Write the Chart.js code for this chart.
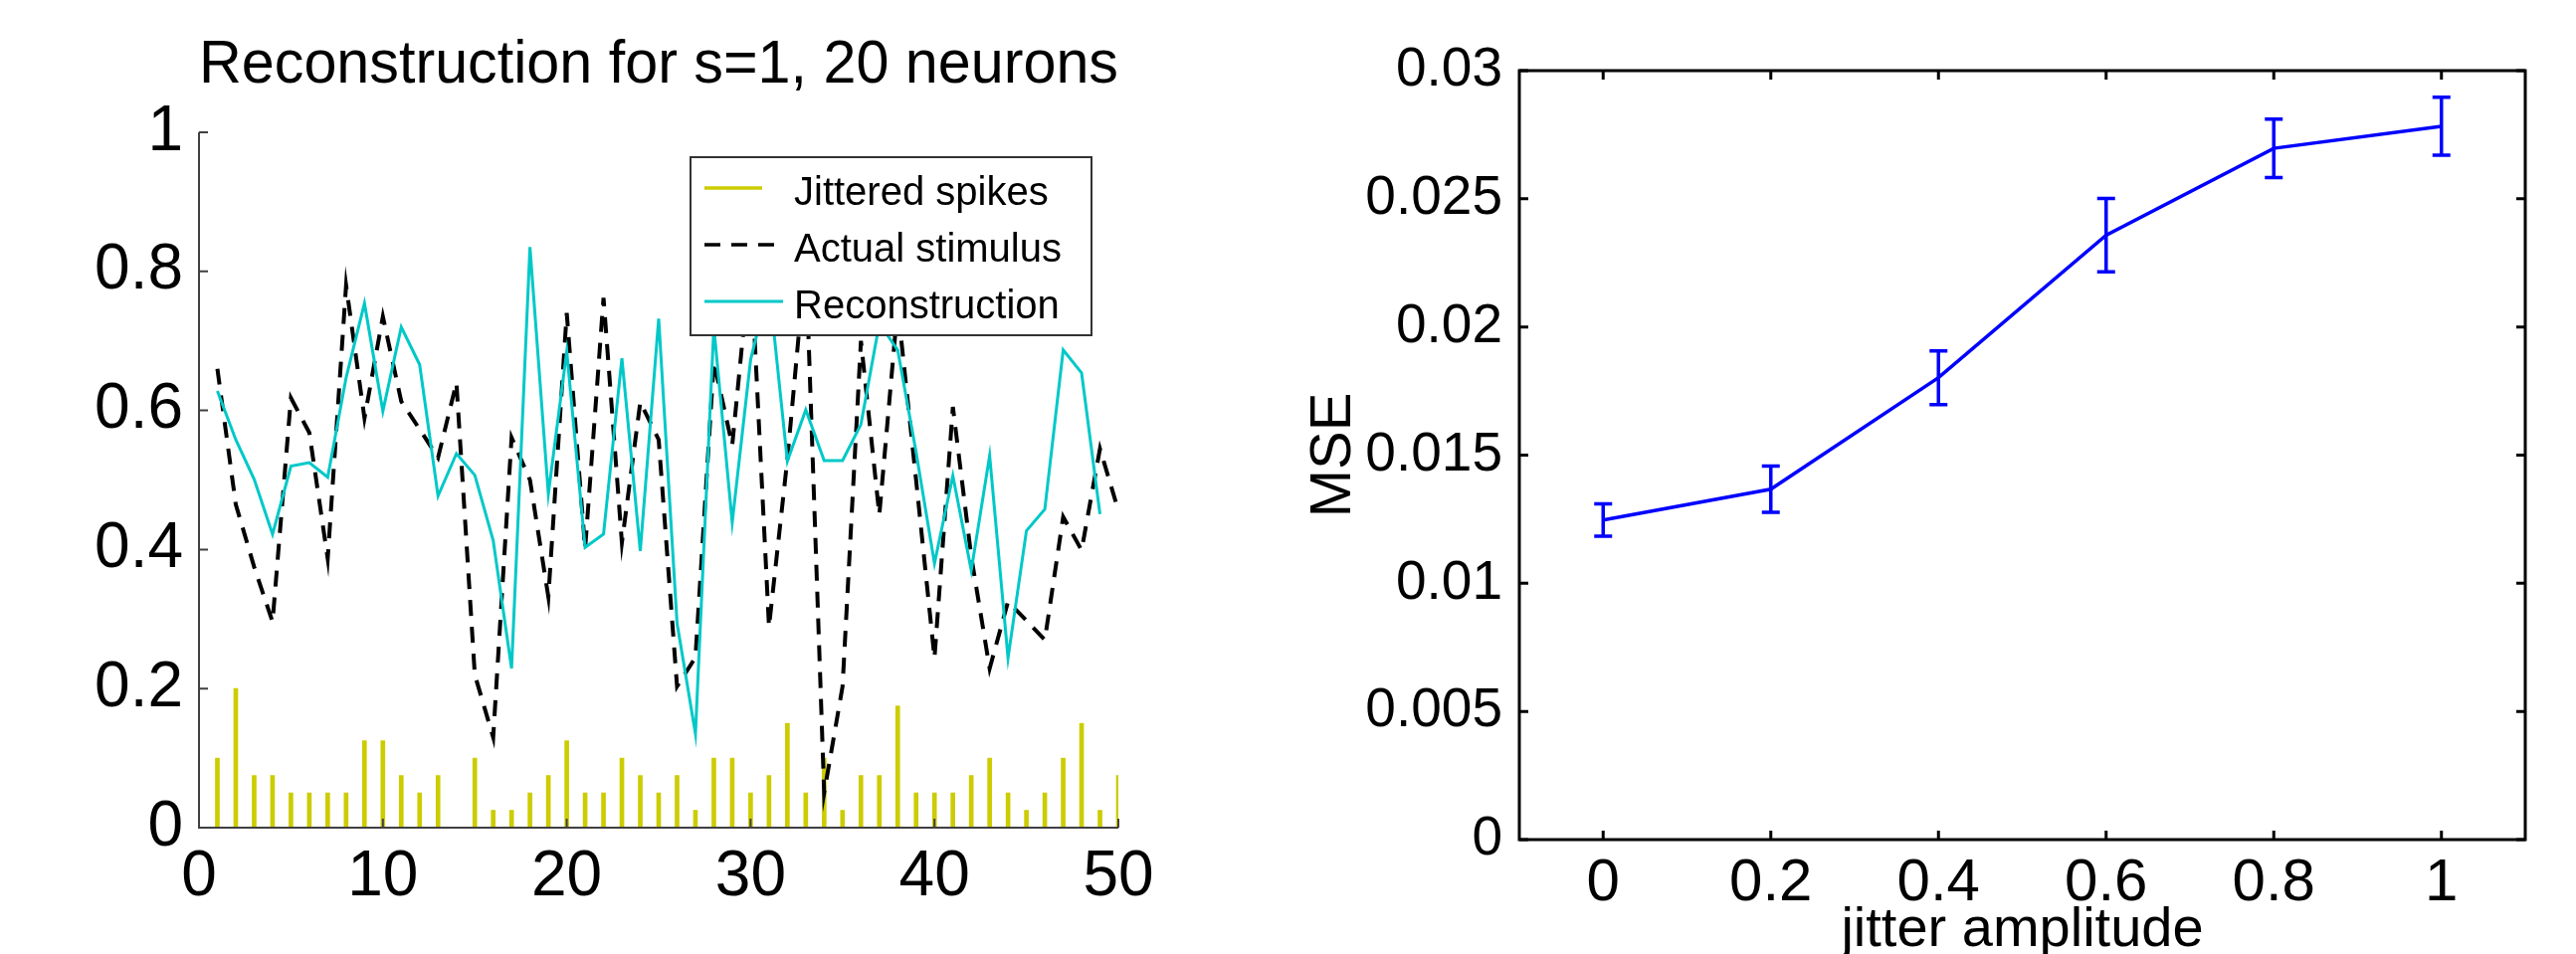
<!DOCTYPE html>
<html>
<head>
<meta charset="utf-8">
<script src="https://cdn.jsdelivr.net/npm/chart.js@4.4.1/dist/chart.umd.min.js"></script>
<style>
  html, body { margin: 0; padding: 0; background: #ffffff; width: 2589px; height: 959px; overflow: hidden; }
  #wrapA { position: absolute; left: 0; top: 0; width: 1290px; height: 959px; }
  #wrapB { position: absolute; left: 1290px; top: 0; width: 1299px; height: 959px; }
  canvas { display: block; }
</style>
</head>
<body>
<div id="wrapA"><canvas id="cA" width="1290" height="959"></canvas></div>
<div id="wrapB"><canvas id="cB" width="1299" height="959"></canvas></div>
<script>
// ---------- data: left panel ----------
const timeSteps = [1,2,3,4,5,6,7,8,9,10,11,12,13,14,15,16,17,18,19,20,21,22,23,24,25,
                   26,27,28,29,30,31,32,33,34,35,36,37,38,39,40,41,42,43,44,45,46,47,48,49,50];
const spikeHeights = [0.1,0.2,0.075,0.075,0.05,0.05,0.05,0.05,0.125,0.125,
                      0.075,0.05,0.075,0,0.1,0.025,0.025,0.05,0.075,0.125,
                      0.05,0.05,0.1,0.075,0.05,0.075,0.025,0.1,0.1,0.05,
                      0.075,0.15,0.05,0.1,0.025,0.075,0.075,0.175,0.05,0.05,
                      0.05,0.075,0.1,0.05,0.025,0.05,0.1,0.15,0.025,0.075];
const actualStimulus = [0.66,0.465,0.375,0.296,0.618,0.568,0.387,0.78,0.589,0.735,
                        0.613,0.573,0.532,0.64,0.22,0.13,0.561,0.50,0.332,0.74,
                        0.401,0.762,0.41,0.612,0.558,0.203,0.245,0.67,0.55,0.82,
                        0.289,0.53,0.82,0.05,0.203,0.70,0.45,0.75,0.50,0.244,
                        0.605,0.39,0.229,0.325,0.298,0.27,0.447,0.399,0.545,0.456];
const reconstruction = [0.628,0.558,0.501,0.422,0.520,0.525,0.504,0.647,0.754,0.599,
                        0.720,0.666,0.477,0.538,0.507,0.413,0.229,0.835,0.480,0.685,
                        0.403,0.422,0.675,0.398,0.732,0.294,0.135,0.72,0.439,0.673,
                        0.78,0.527,0.601,0.528,0.528,0.580,0.725,0.687,0.54,0.380,
                        0.506,0.370,0.535,0.244,0.427,0.458,0.687,0.654,0.451];
const leftXTicks = [0,10,20,30,40,50];
const leftYTicks = [0,0.2,0.4,0.6,0.8,1];
const leftTitle = 'Reconstruction for s=1, 20 neurons';
const seriesNames = ['Jittered spikes', 'Actual stimulus', 'Reconstruction'];

// ---------- data: right panel ----------
const jitterAmplitude = [0,0.2,0.4,0.6,0.8,1];
const mseMean = [0.01247,0.01367,0.01802,0.02358,0.02697,0.02783];
const mseErr  = [0.00063,0.0009,0.00105,0.00143,0.00114,0.00113];
const rightXTicks = [0,0.2,0.4,0.6,0.8,1];
const rightYTicks = [0,0.005,0.01,0.015,0.02,0.025,0.03];
const rightXLabel = 'jitter amplitude';
const rightYLabel = 'MSE';

// ---------- styling ----------
const FONT = "'Liberation Sans', Arial, Helvetica, sans-serif";
Chart.defaults.font.family = FONT;
Chart.defaults.color = '#000';
const YELLOW = '#cccc00', CYAN = '#00c8c8', BLUE = '#0000ff';
const fmt = v => String(+Number(v).toFixed(4));

// frame / inward ticks plugin
const framePlugin = {
  id: 'frame',
  afterDatasetsDraw(chart, args, o) {
    const {ctx, chartArea: a, scales: {x, y}} = chart;
    ctx.save();
    ctx.strokeStyle = o.color; ctx.lineWidth = o.width; ctx.setLineDash([]);
    ctx.lineCap = 'butt';
    ctx.beginPath();
    if (o.box) {
      ctx.rect(a.left, a.top, a.right - a.left, a.bottom - a.top);
    } else {
      ctx.moveTo(a.left, a.top); ctx.lineTo(a.left, a.bottom); ctx.lineTo(a.right, a.bottom);
    }
    ctx.stroke();
    ctx.beginPath();
    y.ticks.forEach(t => {
      const py = y.getPixelForValue(t.value);
      ctx.moveTo(a.left, py); ctx.lineTo(a.left + o.len, py);
      if (o.box) { ctx.moveTo(a.right, py); ctx.lineTo(a.right - o.len, py); }
    });
    x.ticks.forEach(t => {
      const px = x.getPixelForValue(t.value);
      ctx.moveTo(px, a.bottom); ctx.lineTo(px, a.bottom - o.len);
      if (o.box) { ctx.moveTo(px, a.top); ctx.lineTo(px, a.top + o.len); }
    });
    ctx.stroke();
    ctx.restore();
  }
};

// boxed legend drawn inside the left axes
const boxLegendPlugin = {
  id: 'boxLegend',
  afterDraw(chart, args, o) {
    const ctx = chart.ctx;
    ctx.save();
    ctx.fillStyle = '#fff';
    ctx.fillRect(o.left, o.top, o.width, o.height);
    ctx.strokeStyle = '#333'; ctx.lineWidth = 2; ctx.setLineDash([]);
    ctx.strokeRect(o.left, o.top, o.width, o.height);
    ctx.font = o.fontSize + 'px ' + FONT;
    ctx.textBaseline = 'alphabetic'; ctx.textAlign = 'left';
    chart.data.datasets.forEach((ds, i) => {
      const ly = o.top + o.firstRow + i * o.rowGap;
      ctx.beginPath();
      ctx.strokeStyle = ds.type === 'bar' ? ds.backgroundColor : ds.borderColor;
      ctx.lineWidth = ds.type === 'bar' ? 3.5 : Math.min(ds.borderWidth, 3.5);
      ctx.setLineDash(ds.borderDash || []);
      ctx.moveTo(o.left + 14, ly);
      ctx.lineTo(o.left + (ds.type === 'bar' ? 72 : 93), ly);
      ctx.stroke();
      ctx.setLineDash([]);
      ctx.fillStyle = '#000';
      ctx.fillText(ds.label, o.left + 104, ly + 17);
    });
    ctx.restore();
  }
};

// error bar plugin
const errorBarPlugin = {
  id: 'errorBars',
  afterDatasetsDraw(chart, args, o) {
    const {ctx, scales: {x, y}} = chart;
    ctx.save();
    chart.data.datasets.forEach(ds => {
      if (!ds.errors) return;
      ctx.strokeStyle = ds.borderColor; ctx.lineWidth = o.width; ctx.setLineDash([]);
      ctx.beginPath();
      ds.data.forEach((p, i) => {
        const px = x.getPixelForValue(p.x);
        const yt = y.getPixelForValue(p.y + ds.errors[i]);
        const yb = y.getPixelForValue(p.y - ds.errors[i]);
        ctx.moveTo(px, yt); ctx.lineTo(px, yb);
        ctx.moveTo(px - o.cap, yt); ctx.lineTo(px + o.cap, yt);
        ctx.moveTo(px - o.cap, yb); ctx.lineTo(px + o.cap, yb);
      });
      ctx.stroke();
    });
    ctx.restore();
  }
};

// ---------- left chart ----------
new Chart(document.getElementById('cA'), {
  type: 'line',
  data: {
    datasets: [
      { type: 'bar', label: seriesNames[0],
        data: timeSteps.map((t, i) => ({x: t, y: spikeHeights[i]})),
        backgroundColor: YELLOW, borderWidth: 0, barThickness: 4, order: 3 },
      { type: 'line', label: seriesNames[1],
        data: timeSteps.map((t, i) => ({x: t, y: actualStimulus[i]})),
        borderColor: '#000', borderWidth: 4, borderDash: [16, 11],
        pointRadius: 0, tension: 0, fill: false, order: 2 },
      { type: 'line', label: seriesNames[2],
        data: reconstruction.map((v, i) => ({x: timeSteps[i], y: v})),
        borderColor: CYAN, borderWidth: 3, pointRadius: 0, tension: 0, fill: false, order: 1 }
    ]
  },
  options: {
    responsive: false, animation: false, devicePixelRatio: 1,
    layout: { padding: { left: 0, right: 166, top: 0, bottom: 0 } },
    plugins: {
      legend: { display: false }, tooltip: { enabled: false },
      title: { display: true, text: leftTitle, fullSize: false, color: '#000',
               font: { size: 62, weight: 'normal', lineHeight: 1.2 },
               padding: { top: 29, bottom: 29.6 } },
      frame: { color: '#404040', width: 2, len: 9, box: false },
      boxLegend: { left: 694, top: 158, width: 403, height: 179, firstRow: 31, rowGap: 57, fontSize: 40 }
    },
    scales: {
      x: { type: 'linear', min: 0, max: 50, offset: false,
           afterBuildTicks: s => { s.ticks = leftXTicks.map(v => ({value: v})); },
           afterFit: s => { s.height = 127; },
           grid: { display: false }, border: { display: false },
           ticks: { font: { size: 64 }, color: '#000', padding: 4, maxRotation: 0, autoSkip: false, callback: fmt } },
      y: { type: 'linear', min: 0, max: 1,
           afterBuildTicks: s => { s.ticks = leftYTicks.map(v => ({value: v})); },
           afterFit: s => { s.width = 200; },
           grid: { display: false }, border: { display: false },
           ticks: { font: { size: 64 }, color: '#000', padding: 8, autoSkip: false, callback: fmt } }
    }
  },
  plugins: [framePlugin, boxLegendPlugin]
});

// ---------- right chart ----------
new Chart(document.getElementById('cB'), {
  type: 'line',
  data: {
    datasets: [
      { label: rightYLabel,
        data: jitterAmplitude.map((x, i) => ({x, y: mseMean[i]})),
        errors: mseErr,
        borderColor: BLUE, borderWidth: 3.5, pointRadius: 0, tension: 0, fill: false }
    ]
  },
  options: {
    responsive: false, animation: false, devicePixelRatio: 1,
    layout: { padding: { left: 0, right: 51, top: 71, bottom: 0 } },
    plugins: {
      legend: { display: false }, tooltip: { enabled: false },
      frame: { color: '#000', width: 3, len: 9, box: true },
      errorBars: { width: 3.5, cap: 9 }
    },
    scales: {
      x: { type: 'linear', min: -0.1, max: 1.1, offset: false,
           afterBuildTicks: s => { s.ticks = rightXTicks.map(v => ({value: v})); },
           afterFit: s => { s.height = 115; },
           grid: { display: false }, border: { display: false },
           ticks: { font: { size: 60 }, color: '#000', padding: 0, maxRotation: 0, autoSkip: false, callback: fmt },
           title: { display: true, text: rightXLabel, color: '#000',
                    font: { size: 56, lineHeight: 0.8 }, padding: { top: 0, bottom: 1 } } },
      y: { type: 'linear', min: 0, max: 0.03,
           afterBuildTicks: s => { s.ticks = rightYTicks.map(v => ({value: v})); },
           afterFit: s => { s.width = 237; },
           grid: { display: false }, border: { display: false },
           ticks: { font: { size: 55 }, color: '#000', padding: 9, autoSkip: false, callback: fmt },
           title: { display: true, text: rightYLabel, color: '#000',
                    font: { size: 58, lineHeight: 1.2 }, padding: { top: 16, bottom: 0 } } }
    }
  },
  plugins: [framePlugin, errorBarPlugin]
});
</script>
</body>
</html>
